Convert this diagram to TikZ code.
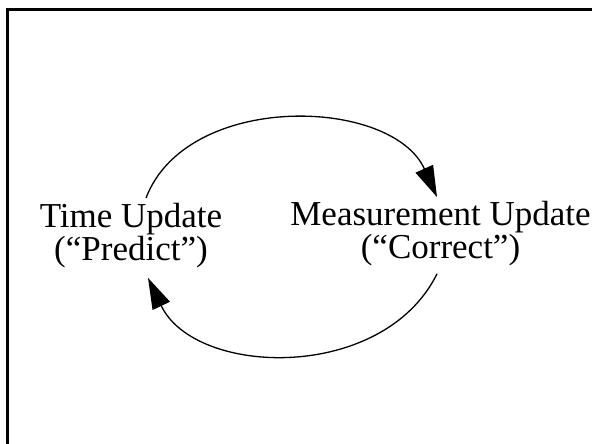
\documentclass[tikz,border=0pt]{standalone}
\usepackage{fontspec}
\setmainfont{Liberation Serif}
\usetikzlibrary{arrows.meta,calc}
\begin{document}
\begin{tikzpicture}[x=1pt,y=1pt,
  label/.style={align=center,inner sep=0pt,anchor=north,
    font=\fontsize{35}{31}\selectfont},
  cycle/.style={line width=1.3pt,-{Triangle[length=31pt,width=19pt]}}]
  \useasboundingbox (0,0) rectangle (592,444);
  \begin{scope}
    \clip (0,0) rectangle (592,444);
    % outer frame, only its top and left sides fall inside the page
    \draw[line width=3pt] (7.5,434.5) rectangle (620,-20);
  \end{scope}
  \node[label] (tu) at (131,241) {Time Update\\(“Predict”)};
  \node[label] (mu) at (440.5,243) {Measurement Update\\(“Correct”)};
  % predict -> correct
  \draw[cycle] ($(tu.north)+(15,5)$) .. controls +(41,107) and +(-45,100) .. ($(mu.north)+(-3.5,4)$);
  % correct -> predict
  \draw[cycle] ($(mu.south)+(-3.5,-8)$) .. controls +(-54,-109) and +(47,-99) .. ($(tu.south)+(17,-10)$);
\end{tikzpicture}
\end{document}
